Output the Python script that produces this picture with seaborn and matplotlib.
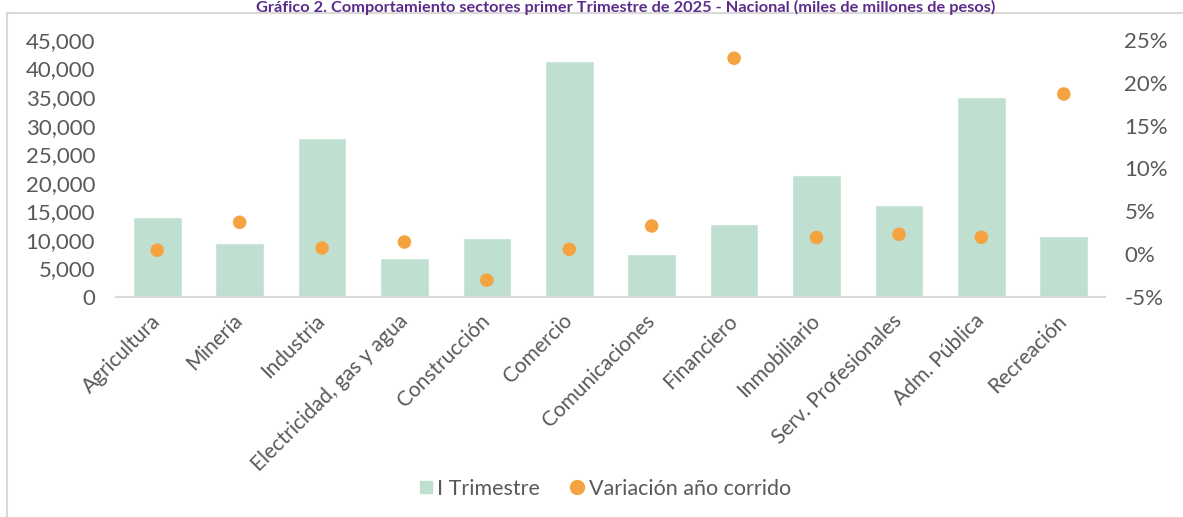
"""Comportamiento sectores primer trimestre - barras y variación"""

import pandas as pd
import seaborn as sns
import matplotlib.pyplot as plt
from matplotlib.patches import Rectangle
from matplotlib.lines import Line2D
from matplotlib.ticker import FuncFormatter

sns.set_style('white')
plt.rcParams['font.family'] = ['Lato', 'DejaVu Sans']

# Data
sectores = ['Agricultura', 'Minería', 'Industria', 'Electricidad, gas y agua',
            'Construcción', 'Comercio', 'Comunicaciones', 'Financiero',
            'Inmobiliario', 'Serv. Profesionales', 'Adm. Pública', 'Recreación']
trimestre = [13950, 9420, 27780, 6830, 10330, 41350, 7530, 12780,
             21360, 16160, 35070, 10680]
variacion = [0.0046, 0.0372, 0.0072, 0.0142, -0.0303, 0.0057, 0.0329, 0.2287,
             0.0194, 0.0232, 0.0197, 0.1870]

df = pd.DataFrame({'Sector': sectores, 'Trimestre': trimestre, 'Variacion': variacion})

bar_color = '#bfdfd0'
dot_color = '#f4a340'
text_color = '#595959'

fig = plt.figure(figsize=(11.83, 5.17), dpi=100)
ax = fig.add_axes([116/1183, 1 - 297/517, (1105 - 116)/1183, (297 - 40)/517])

sns.barplot(data=df, x='Sector', y='Trimestre', color=bar_color, width=0.59,
            saturation=1, ax=ax)
ax.set_ylim(0, 45000)
ax.set_yticks(range(0, 45001, 5000))
ax.yaxis.set_major_formatter(FuncFormatter(lambda v, p: f'{int(v):,}'))
ax.set_xlim(-0.5, 11.5)
ax.set_xlabel('')
ax.set_ylabel('')

ax2 = ax.twinx()
sns.scatterplot(data=df, x='Sector', y='Variacion', color=dot_color, s=95,
                edgecolor='none', ax=ax2, zorder=3)
ax2.set_ylim(-0.05, 0.25)
ax2.set_yticks([-0.05, 0, 0.05, 0.10, 0.15, 0.20, 0.25])
ax2.yaxis.set_major_formatter(FuncFormatter(lambda v, p: f'{v*100:.0f}%'))
ax2.set_ylabel('')
ax2.set_xlim(-0.5, 11.5)

for a in (ax, ax2):
    for s in a.spines.values():
        s.set_visible(False)
    a.tick_params(length=0, labelsize=16, colors=text_color)
ax.tick_params(axis='y', pad=15)
ax2.tick_params(axis='y', pad=14)
ax.spines['bottom'].set_visible(True)
ax.spines['bottom'].set_color('#d9d9d9')
ax.spines['bottom'].set_linewidth(1.5)

ax.set_xticks(range(len(sectores)))
ax.set_xticklabels(sectores, rotation=45, ha='right', va='center',
                   rotation_mode='anchor', fontsize=15, color=text_color)
ax.tick_params(axis='x', pad=15)

# legend
handles = [
    Line2D([], [], marker='s', linestyle='none', color=bar_color, markersize=9),
    Line2D([], [], marker='o', linestyle='none', color=dot_color, markersize=10),
]
fig.legend(handles, ['I Trimestre', 'Variación año corrido'], loc='center',
           bbox_to_anchor=(605/1183, 1 - 489/517), ncol=2, frameon=False,
           fontsize=15.5, handlelength=0.6, handletextpad=0.25,
           columnspacing=1.4, labelcolor=text_color)

# outer frame and title
fig.patches.append(Rectangle((7/1183, -0.2), 1.2, 1.2 - 13/517,
                             transform=fig.transFigure, fill=False,
                             edgecolor='#d9d9d9', linewidth=1.5))
fig.text(626/1183, 1 - 12/517,
         'Gráfico 2. Comportamiento sectores primer Trimestre de 2025 - Nacional (miles de millones de pesos)',
         ha='center', va='baseline', fontsize=11.8, fontweight='bold', color='#5b2c8c')

fig.savefig('out.png', dpi=100)
